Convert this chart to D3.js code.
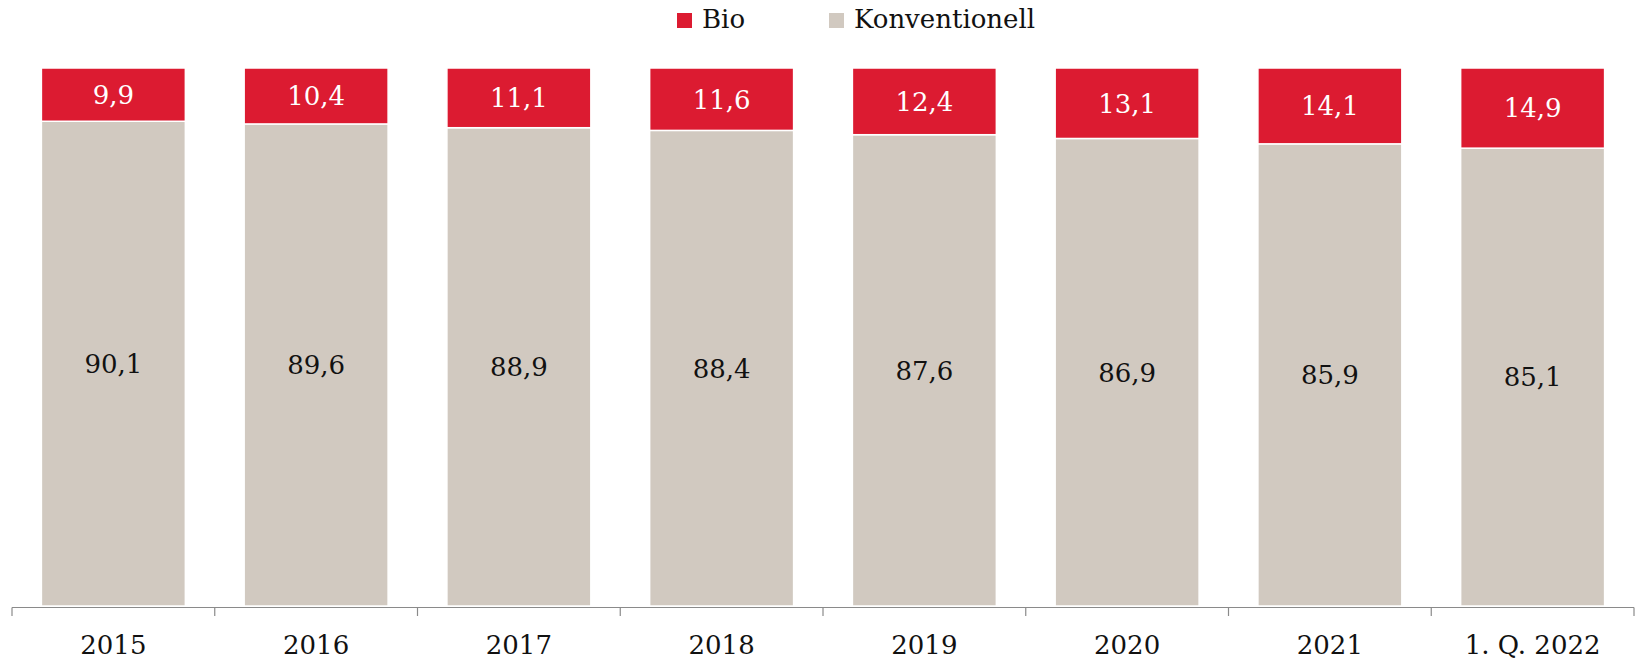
<!DOCTYPE html>
<html>
<head>
<meta charset="utf-8">
<script src="https://cdn.jsdelivr.net/npm/d3@7"></script>
<style>
  body { margin: 0; background: #fff; }
  svg text { font-family: "DejaVu Serif", serif; }
</style>
</head>
<body>
<svg id="chart"></svg>
<script>
  // data
  const categories = ['2015', '2016', '2017', '2018', '2019', '2020', '2021', '1. Q. 2022']
  const bio = [9.9, 10.4, 11.1, 11.6, 12.4, 13.1, 14.1, 14.9]
  const konventionell = [90.1, 89.6, 88.9, 88.4, 87.6, 86.9, 85.9, 85.1]
  const seriesNames = ['Bio', 'Konventionell']

  const W = 1642
  const H = 661
  const RED = '#DC1B31'
  const GREY = '#D1C9C0'

  const svg = d3.select('#chart').attr('width', W).attr('height', H)

  const x = d3.scaleBand().domain(categories).range([12, 1634]).paddingInner(0.29).paddingOuter(0.145)
  const y = d3.scaleLinear().domain([0, 100]).range([606, 68])

  const rows = categories.map((c, i) => ({ cat: c, Bio: bio[i], Konventionell: konventionell[i] }))
  // Bio on top, konventionell at bottom
  const stack = d3.stack().keys(['Konventionell', 'Bio'])(rows)
  const color = { Bio: RED, Konventionell: GREY }
  const textColor = { Bio: '#fff', Konventionell: '#111' }

  const fmt = v => String(v.toFixed(1)).replace('.', ',')

  stack.forEach(layer => {
    const g = svg.append('g')
    g.selectAll('rect').data(layer).enter().append('rect')
      .attr('x', d => x(d.data.cat))
      .attr('width', x.bandwidth())
      .attr('y', d => y(d[1]))
      .attr('height', d => y(d[0]) - y(d[1]))
      .attr('fill', color[layer.key])
      .attr('stroke', '#fff')
      .attr('stroke-width', 1.5)
    g.selectAll('text').data(layer).enter().append('text')
      .attr('x', d => x(d.data.cat) + x.bandwidth() / 2)
      .attr('y', d => (y(d[0]) + y(d[1])) / 2)
      .attr('dy', '0.36em')
      .attr('text-anchor', 'middle')
      .attr('font-size', 26)
      .attr('fill', textColor[layer.key])
      .text(d => fmt(d.data[layer.key]))
  })

  // axis: line with ticks at band boundaries
  const axisG = svg.append('g')
  axisG.append('line')
    .attr('x1', 12).attr('x2', 1634).attr('y1', 607.5).attr('y2', 607.5)
    .attr('stroke', '#8a8a8a').attr('stroke-width', 1.2)
  const step = x.step()
  const bounds = d3.range(categories.length + 1).map(i => 12 + i * (1622 / categories.length))
  axisG.selectAll('line.tick').data(bounds).enter().append('line')
    .attr('class', 'tick')
    .attr('x1', d => d).attr('x2', d => d)
    .attr('y1', 607.5).attr('y2', 616)
    .attr('stroke', '#8a8a8a').attr('stroke-width', 1.2)
  axisG.selectAll('text').data(categories).enter().append('text')
    .attr('x', d => x(d) + x.bandwidth() / 2)
    .attr('y', 654)
    .attr('text-anchor', 'middle')
    .attr('font-size', 26)
    .attr('fill', '#111')
    .text(d => d)

  // legend
  const legendX = [677, 829]
  const legend = svg.append('g')
  seriesNames.forEach((name, i) => {
    legend.append('rect')
      .attr('x', legendX[i]).attr('y', 13).attr('width', 15).attr('height', 15)
      .attr('fill', color[name])
    legend.append('text')
      .attr('x', legendX[i] + 25).attr('y', 28)
      .attr('font-size', 26).attr('fill', '#111')
      .text(name)
  })
</script>
</body>
</html>
